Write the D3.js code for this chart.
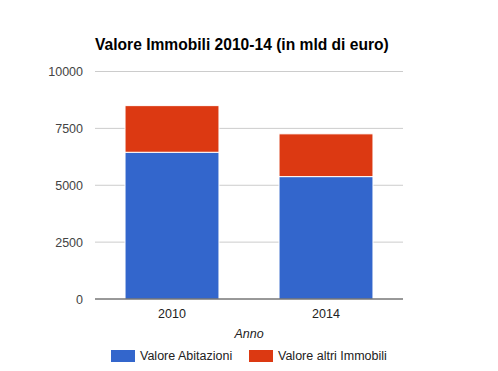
<!DOCTYPE html>
<html>
<head>
<meta charset="utf-8">
<script src="https://cdn.jsdelivr.net/npm/d3@7"></script>
<style>
  body { margin: 0; background: #fff; }
  text { font-family: "Liberation Sans", Arial, sans-serif; }
</style>
</head>
<body>
<script>
// data
let anni = ["2010", "2014"];
let abitazioni = [6450, 5380];
let altriImmobili = [2050, 1880];
let serie = ["Valore Abitazioni", "Valore altri Immobili"];
let colori = ["#3366cc", "#dc3912"];
let yTicks = [0, 2500, 5000, 7500, 10000];

let w = 498, h = 371;
let padL = 95, padR = 403, padT = 71.5, padB = 299;

let svg = d3.select("body").append("svg")
  .attr("width", w)
  .attr("height", h);

let x = d3.scaleBand()
  .domain(anni)
  .range([padL, padR])
  .paddingInner(0.39)
  .paddingOuter(0.195);

let y = d3.scaleLinear()
  .domain([0, 10000])
  .range([padB, padT]);

// gridlines
svg.append("g")
  .selectAll("line")
  .data(yTicks.filter(d => d > 0))
  .enter().append("line")
  .attr("x1", padL).attr("x2", padR)
  .attr("y1", d => y(d)).attr("y2", d => y(d))
  .attr("stroke", "#cccccc")
  .attr("stroke-width", 1);

// y tick labels
let yAxis = d3.axisLeft(y).tickValues(yTicks).tickSize(0).tickPadding(12).tickFormat(d3.format("d"));
let ya = svg.append("g")
  .attr("transform", "translate(" + padL + ",0)")
  .call(yAxis);
ya.select(".domain").remove();
ya.selectAll("text")
  .style("font-size", "12.5px")
  .style("font-family", "Liberation Sans, Arial, sans-serif")
  .attr("fill", "#444");

// stacked data
let stacked = d3.stack().keys([0, 1])(anni.map((a, i) => ({ anno: a, 0: abitazioni[i], 1: altriImmobili[i] })));

svg.append("g")
  .selectAll("g")
  .data(stacked)
  .enter().append("g")
  .attr("fill", (d, i) => colori[i])
  .selectAll("rect")
  .data(d => d)
  .enter().append("rect")
  .attr("x", d => x(d.data.anno))
  .attr("width", x.bandwidth())
  .attr("y", d => y(d[1]))
  .attr("height", d => y(d[0]) - y(d[1]))
  .attr("stroke", "#fff")
  .attr("stroke-width", 1);

// x axis
let xAxis = d3.axisBottom(x).tickSize(0).tickPadding(10);
let xa = svg.append("g")
  .attr("transform", "translate(0," + padB + ")")
  .call(xAxis);
xa.select(".domain").attr("stroke", "#333").attr("d", "M" + padL + ",0H" + padR);
xa.selectAll("text")
  .style("font-size", "12.5px")
  .style("font-family", "Liberation Sans, Arial, sans-serif")
  .attr("fill", "#222");

// title
svg.append("text")
  .attr("x", padL)
  .attr("y", 50)
  .style("font-size", "15.6px")
  .style("font-weight", "bold")
  .attr("fill", "#000")
  .text("Valore Immobili 2010-14 (in mld di euro)");

// axis title
svg.append("text")
  .attr("x", (padL + padR) / 2)
  .attr("y", 338)
  .attr("text-anchor", "middle")
  .style("font-size", "12.5px")
  .style("font-style", "italic")
  .attr("fill", "#222")
  .text("Anno");

// legend
let legendX = [111, 249];
let legend = svg.selectAll(".legend")
  .data(serie)
  .enter().append("g")
  .attr("class", "legend")
  .attr("transform", (d, i) => "translate(" + legendX[i] + ",350)");

legend.append("rect")
  .attr("width", 24)
  .attr("height", 12)
  .attr("fill", (d, i) => colori[i]);

legend.append("text")
  .attr("x", 29)
  .attr("y", 10)
  .style("font-size", "12.5px")
  .attr("fill", "#222")
  .text(d => d);
</script>
</body>
</html>
